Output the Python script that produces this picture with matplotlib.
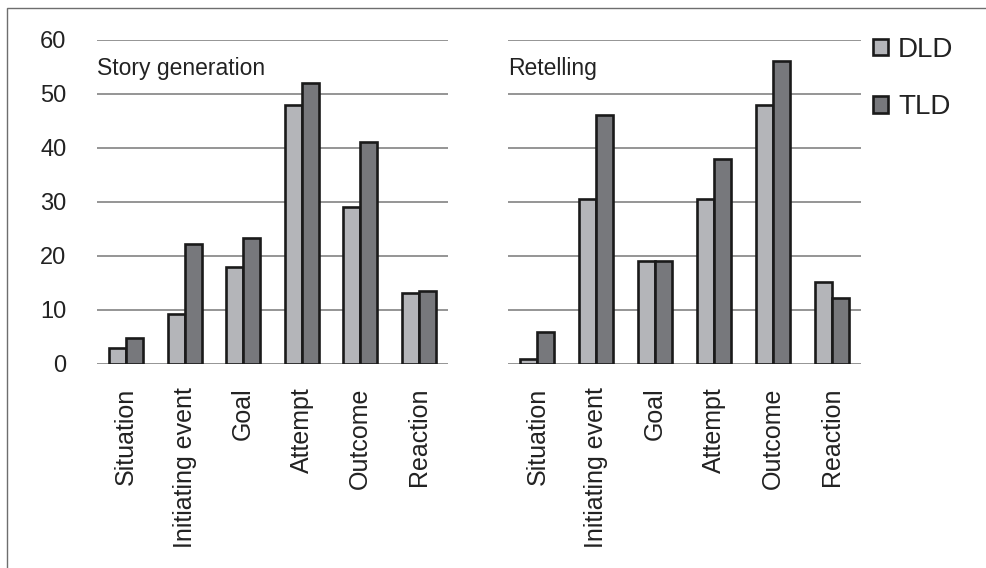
import numpy as np
import matplotlib
matplotlib.use("Agg")
import matplotlib.pyplot as plt
from matplotlib.patches import Patch, Rectangle

plt.rcParams["font.family"] = ["Liberation Sans", "DejaVu Sans"]

# data
categories = ["Situation", "Initiating event", "Goal", "Attempt", "Outcome", "Reaction"]
story_dld = [3.0, 9.3, 18.0, 48.0, 29.1, 13.1]
story_tld = [4.9, 22.3, 23.3, 52.0, 41.2, 13.6]
retell_dld = [1.0, 30.5, 19.0, 30.5, 48.0, 15.1]
retell_tld = [5.9, 46.1, 19.0, 37.9, 56.2, 12.2]
panel_titles = ["Story generation", "Retelling"]
series_names = ["DLD", "TLD"]

c_dld = "#b4b5b9"
c_tld = "#77787c"
c_edge = "#1a1a1a"
c_grid = "#8c8c8c"
c_text = "#222222"

W, H = 987, 568
fig = plt.figure(figsize=(W / 100, H / 100), dpi=100)

# outer frame (only left and top visible in the original)
fig.patches.append(Rectangle((7 / W, -0.05), 1.2, 1 - 8 / H + 0.05,
                             transform=fig.transFigure, fill=False,
                             edgecolor="#6e6e6e", linewidth=1.0))

bottom = 1 - 364 / H
height = (364 - 40) / H
ax1 = fig.add_axes([97 / W, bottom, 351 / W, height])
ax2 = fig.add_axes([508 / W, bottom, 353 / W, height])

x = np.arange(len(categories))
bw = 0.29

for ax, dld, tld, title in [(ax1, story_dld, story_tld, panel_titles[0]),
                            (ax2, retell_dld, retell_tld, panel_titles[1])]:
    ax.bar(x - bw / 2, dld, bw, color=c_dld, edgecolor=c_edge, linewidth=1.9, zorder=3)
    ax.bar(x + bw / 2, tld, bw, color=c_tld, edgecolor=c_edge, linewidth=1.9, zorder=3)
    ax.set_xlim(-0.5, len(categories) - 0.5)
    ax.set_ylim(0, 60)
    ax.set_yticks(np.arange(0, 61, 10))
    ax.yaxis.grid(True, color=c_grid, linewidth=1.3, zorder=0)
    ax.set_axisbelow(True)
    for s in ax.spines.values():
        s.set_visible(False)
    ax.set_xticks(x)
    ax.set_xticklabels(categories, rotation=90, fontsize=18, color=c_text, va="top")
    ax.tick_params(axis="x", length=0, pad=17)
    ax.tick_params(axis="y", length=0, pad=22, labelsize=17, labelcolor=c_text)
    ax.text(0.0, 54.8, title, transform=ax.get_yaxis_transform(),
            fontsize=16.5, color=c_text, va="center", ha="left")

ax2.tick_params(axis="y", labelleft=False)

handles = [Patch(facecolor=c_dld, edgecolor=c_edge, linewidth=1.9),
           Patch(facecolor=c_tld, edgecolor=c_edge, linewidth=1.9)]
fig.legend(handles, series_names, loc="upper left",
           bbox_to_anchor=(859 / W, 1 - 23 / H), frameon=False,
           fontsize=20, handlelength=0.55, handleheight=0.55,
           handletextpad=0.35, labelspacing=1.13, borderpad=0,
           labelcolor=c_text)

fig.savefig("out.png", dpi=100)
